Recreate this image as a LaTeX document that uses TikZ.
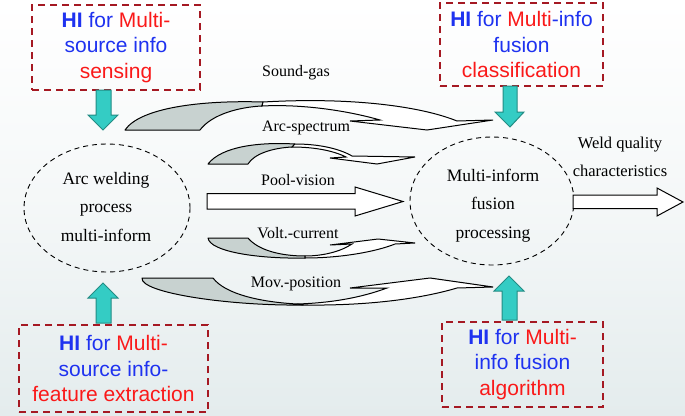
\documentclass[tikz,border=0pt]{standalone}
\usepackage{fontspec}
\setmainfont{Liberation Serif}
\newfontfamily\boxfont{Liberation Sans}
\usetikzlibrary{shapes.geometric}
\definecolor{hiblue}{RGB}{30,50,240}
\definecolor{hired}{RGB}{250,25,25}
\definecolor{boxred}{RGB}{165,25,35}
\definecolor{tealf}{RGB}{52,204,196}
\definecolor{teald}{RGB}{35,140,132}
\definecolor{greyf}{RGB}{200,210,208}
\definecolor{bgbot}{RGB}{228,236,237}
\tikzset{
  hibox/.style={draw=boxred, line width=2.3pt, dash pattern=on 7pt off 5pt,
    align=center, inner sep=0pt, text=hiblue,
    font=\boxfont\fontsize{21}{25.5}\selectfont},
  dashell/.style={draw=black, line width=0.9pt, dash pattern=on 5pt off 4pt,
    ellipse, inner sep=0pt},
  lbl/.style={font=\fontsize{16}{18}\selectfont, inner sep=0pt},
  ctext/.style={font=\fontsize{17.5}{28.5}\selectfont, align=center, inner sep=0pt},
  wtext/.style={font=\fontsize{16.5}{28}\selectfont, align=center, inner sep=0pt},
  tealarrow/.style={fill=tealf, draw=teald, line width=1pt, line join=miter},
  greypart/.style={fill=greyf, draw=black, line width=1pt, line join=round},
  whitepart/.style={fill=white, draw=black, line width=1pt, line join=miter},
}
\begin{document}
\begin{tikzpicture}[x=1pt,y=-1pt]
\useasboundingbox (0,0) rectangle (685,415);
\shade[top color=white, bottom color=bgbot, middle color=white!60!bgbot] (0,0) rectangle (685,415);

% HI boxes
\node[hibox, minimum width=168pt, minimum height=85pt] (tl) at (116,47.5)
  {\textbf{HI} for \textcolor{hired}{Multi-}\\source info\\\textcolor{hired}{sensing}};
\node[hibox, minimum width=163pt, minimum height=83pt] (tr) at (521.5,44.5)
  {\textbf{HI} for \textcolor{hired}{Multi}-info\\fusion\\\textcolor{hired}{classification}};
\node[hibox, minimum width=189pt, minimum height=87pt] (bl) at (113.5,368.5)
  {\textbf{HI} for \textcolor{hired}{Multi-}\\source info-\\\textcolor{hired}{feature extraction}};
\node[hibox, minimum width=161pt, minimum height=85pt] (br) at (522.5,364.5)
  {\textbf{HI} for \textcolor{hired}{Multi-}\\info fusion\\\textcolor{hired}{algorithm}};

% ellipses
\node[dashell, minimum width=166pt, minimum height=128pt] (le) at (107,208) {};
\node[dashell, minimum width=164pt, minimum height=128pt] (re) at (492,201) {};
\node[ctext] (let) at (106,207) {Arc welding\\process\\multi-inform};
\node[ctext] (ret) at (493,205.5) {Multi-inform\\fusion\\processing};

% teal arrows
\draw[tealarrow] (96,90) -- (111,90) -- (111,115) -- (118,115) -- (103,130) -- (88,115) -- (96,115) -- cycle;
\draw[tealarrow] (503,86) -- (517,86) -- (517,112) -- (524,112) -- (510,127) -- (495,112) -- (503,112) -- cycle;
\draw[tealarrow] (96,323) -- (111,323) -- (111,298) -- (118,298) -- (103,283) -- (88,298) -- (96,298) -- cycle;
\draw[tealarrow] (502,320) -- (517,320) -- (517,291) -- (524,291) -- (509,276) -- (494,291) -- (502,291) -- cycle;

% Sound-gas
\draw[greypart] (125,130) .. controls (140,108) and (200,100) .. (263,102) -- (262,106) .. controls (240,107) and (212,114) .. (200,130) -- cycle;
\draw[whitepart] (263,102) .. controls (350,97) and (420,106) .. (457,121) -- (493,120) -- (427,130) -- (350,121) -- (380,120) .. controls (345,110) and (300,104) .. (262,106) -- cycle;
\node[lbl] (sg) at (296,73) {Sound-gas};

% Arc-spectrum
\draw[greypart] (208,164) .. controls (222,146) and (260,142) .. (295,144) -- (292,147) .. controls (272,148) and (254,154) .. (248,164) -- cycle;
\draw[whitepart] (295,144) .. controls (320,144) and (340,149) .. (352,156) -- (415,157) -- (377,164) -- (330,158) -- (346,157) .. controls (332,150) and (312,147) .. (292,147) -- cycle;
\node[lbl] (as) at (306,128) {Arc-spectrum};

% Pool-vision
\draw[whitepart] (207,193.5) -- (355,193.5) -- (355,187) -- (403,201.5) -- (355,216) -- (355,209) -- (207,209) -- cycle;
\node[lbl] (pv) at (298,180) {Pool-vision};

% Volt.-current
\draw[greypart] (208,238) -- (248,238) .. controls (258,250) and (280,256) .. (305,256) -- (305,258) .. controls (260,259) and (210,252) .. (208,238) -- cycle;
\draw[whitepart] (305,258) .. controls (340,258) and (375,252) .. (395,244) -- (415,243) -- (378,239) -- (330,245) -- (352,244) .. controls (340,252) and (322,256) .. (305,256) -- cycle;
\node[lbl] (vc) at (298,233) {Volt.-current};

% Mov.-position
\draw[greypart] (142,278) -- (213,278) .. controls (225,294) and (260,302) .. (297,304) -- (303,305) .. controls (230,306) and (140,293) .. (142,278) -- cycle;
\draw[whitepart] (303,305) .. controls (380,306) and (430,296) .. (457,288) -- (493,287) -- (430,278) -- (350,288) -- (387,288) .. controls (360,298) and (330,303) .. (297,304) -- cycle;
\node[lbl] (mp) at (296,284) {Mov.-position};

% Output
\draw[whitepart] (573,195) -- (657,195) -- (657,188) -- (683,202) -- (657,216) -- (657,208.5) -- (573,208.5) -- cycle;
\node[wtext] (wq) at (620,157) {Weld quality\\characteristics};
\end{tikzpicture}
\end{document}
